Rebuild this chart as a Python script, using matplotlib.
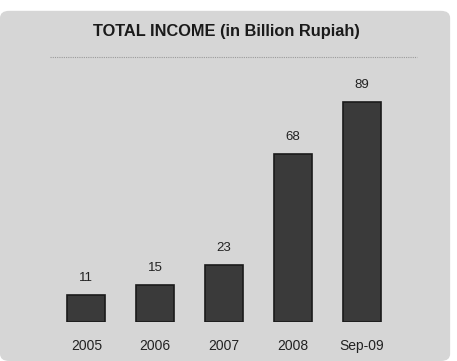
import matplotlib.pyplot as plt
from matplotlib.patches import FancyBboxPatch

# data
years = ['2005', '2006', '2007', '2008', 'Sep-09']
income = [11, 15, 23, 68, 89]

fig = plt.figure(figsize=(4.57, 3.61), dpi=100)
fig.patch.set_facecolor('white')

# gray panel behind everything
panel = FancyBboxPatch((0.0, 0.0), 0.985, 0.97, boxstyle='round,pad=0,rounding_size=0.02',
                       transform=fig.transFigure, facecolor='#d6d6d6', edgecolor='none', zorder=-10)
fig.patches.append(panel)

# title and separator line
fig.text(0.495, 0.912, 'TOTAL INCOME (in Billion Rupiah)', ha='center', va='center',
         fontsize=11.8, fontweight='bold', color='#1a1a1a', family='Liberation Sans')
fig.add_artist(plt.Line2D([0.11, 0.912], [0.842, 0.842], transform=fig.transFigure,
                          color='#9a9a9a', lw=0.8, linestyle=(0, (1, 1))))

ax = fig.add_axes([0.0985, 0.108, 0.784, 0.684])
ax.set_zorder(5)
ax.patch.set_alpha(0)
x = list(range(len(years)))
bars = ax.bar(x, income, width=0.55, color='#3a3a3a', edgecolor='#1a1a1a', linewidth=1.2)

for xi, v in zip(x, income):
    ax.text(xi, v + 4.5, str(v), ha='center', va='bottom', fontsize=9.5,
            color='#222222', family='Liberation Sans')

ax.set_xlim(-0.6, 4.6)
ax.set_ylim(0, 100)
ax.set_yticks([])
ax.set_xticks(x)
ax.set_xticklabels(years, fontsize=10, color='#222222', family='Liberation Sans')
ax.tick_params(axis='x', length=0, pad=12)
for s in ax.spines.values():
    s.set_visible(False)

fig.savefig('out.png', dpi=100)
